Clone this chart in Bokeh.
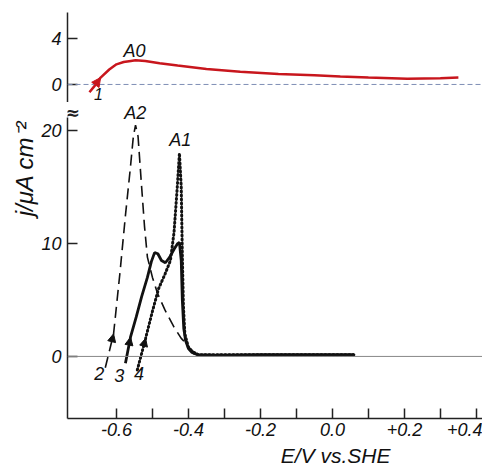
from bokeh.plotting import figure
from bokeh.layouts import column
from bokeh.models import Range1d, FixedTicker, Span, Label, Arrow, NormalHead, Title
from bokeh.embed import file_html
from bokeh.resources import INLINE

# ---- data ----
# curve 1 (upper panel, A0)
E1 = [-0.675, -0.66, -0.644, -0.62, -0.60, -0.58, -0.56, -0.547, -0.52, -0.48, -0.43, -0.35, -0.256, -0.15, -0.05, 0.022, 0.10, 0.208, 0.30, 0.35]
j1 = [-0.68, -0.1, 0.6, 1.3, 1.75, 1.95, 2.05, 2.1, 2.05, 1.85, 1.65, 1.35, 1.1, 0.9, 0.8, 0.7, 0.6, 0.5, 0.55, 0.6]
# curve 2 (dashed, A2)
E2 = [-0.631, -0.608, -0.590, -0.575, -0.562, -0.553, -0.547, -0.540, -0.530, -0.522, -0.514, -0.500, -0.486, -0.465, -0.440, -0.420, -0.408, -0.390, -0.370, -0.30, -0.10, 0.06]
j2 = [-1.0, 2.0, 7.5, 12.5, 16.5, 19.5, 20.5, 19.5, 15.0, 11.5, 8.8, 7.0, 5.6, 4.1, 2.6, 1.6, 1.2, 0.5, 0.2, 0.15, 0.15, 0.15]
# curve 3 (solid)
E3 = [-0.575, -0.561, -0.545, -0.530, -0.514, -0.503, -0.494, -0.485, -0.475, -0.464, -0.452, -0.440, -0.430, -0.425, -0.420, -0.417, -0.413, -0.408, -0.400, -0.390, -0.375, -0.36, -0.20, 0.0, 0.06]
j3 = [-0.6, 1.7, 3.5, 5.3, 7.0, 8.4, 9.2, 9.1, 8.5, 8.3, 8.8, 9.5, 10.0, 10.1, 8.5, 5.0, 2.5, 1.4, 0.7, 0.35, 0.15, 0.1, 0.15, 0.15, 0.15]
# curve 4 (dotted, A1)
E4 = [-0.542, -0.519, -0.500, -0.483, -0.465, -0.450, -0.440, -0.431, -0.425, -0.420, -0.417, -0.414, -0.410, -0.400, -0.385, -0.37, -0.20, 0.0, 0.06]
j4 = [-1.2, 1.6, 4.0, 6.0, 7.3, 8.5, 11.0, 15.0, 18.0, 15.0, 9.0, 4.5, 2.0, 0.8, 0.3, 0.15, 0.15, 0.15, 0.15]

x_ticks = [-0.6, -0.5, -0.4, -0.3, -0.2, -0.1, 0.0, 0.1, 0.2, 0.3, 0.4]
x_tick_labels = ["-0.6", "", "-0.4", "", "-0.2", "", "0.0", "", "+0.2", "", "+0.4"]
upper_ticks = [0, 4]
lower_ticks = [0, 10, 20]

FONT = "Liberation Sans"
FS = "18px"

x_range = Range1d(-0.736, 0.417)
upper_y = Range1d(-1.57, 6.26)
lower_y = Range1d(-5.5, 22.5)


def style_axis(ax):
    ax.major_tick_in = 10
    ax.major_tick_out = 0
    ax.minor_tick_line_color = None
    ax.axis_line_width = 1.5
    ax.major_tick_line_width = 1.5
    ax.axis_line_color = "#222"
    ax.major_tick_line_color = "#222"
    ax.major_label_text_font = FONT
    ax.major_label_text_font_style = "italic"
    ax.major_label_text_font_size = FS
    ax.major_label_text_color = "#111"


# ---- upper panel ----
p1 = figure(width=482, height=102, x_range=x_range, y_range=upper_y,
            output_backend="svg", toolbar_location=None, x_axis_location=None,
            min_border_left=67, min_border_right=0, min_border_top=12, min_border_bottom=0)
p1.outline_line_color = None
p1.grid.visible = False
p1.yaxis.ticker = FixedTicker(ticks=upper_ticks)
style_axis(p1.yaxis[0])
p1.yaxis.major_label_standoff = 6
p1.add_layout(Span(location=0, dimension="width", line_color="#7f8fb5", line_width=1, line_dash="5 3"))
p1.line(E1, j1, line_color="#c8161d", line_width=2.5)
p1.add_layout(Arrow(x_start=E1[1], y_start=j1[1], x_end=E1[2], y_end=j1[2], line_alpha=0,
                    end=NormalHead(size=9, fill_color="#c8161d", line_color="#c8161d")))
for txt, x, y, fs in [("A0", -0.55, 2.95, "18px"), ("1", -0.650, -0.8, "16px")]:
    p1.add_layout(Label(x=x, y=y, text=txt, text_font=FONT, text_font_style="italic",
                        text_font_size=fs, text_align="center", text_baseline="middle", text_color="#111"))

# ---- lower panel ----
p2 = figure(width=482, height=372, x_range=x_range, y_range=lower_y,
            output_backend="svg", toolbar_location=None,
            min_border_left=67, min_border_right=0, min_border_top=0, min_border_bottom=56)
p2.outline_line_color = None
p2.grid.visible = False
p2.yaxis.ticker = FixedTicker(ticks=lower_ticks)
p2.xaxis.ticker = FixedTicker(ticks=x_ticks)
p2.xaxis.major_label_overrides = dict(zip(x_ticks, x_tick_labels))
style_axis(p2.yaxis[0])
style_axis(p2.xaxis[0])
p2.yaxis.major_label_standoff = 6
p2.xaxis.major_label_standoff = 4
p2.yaxis.bounds = (lower_y.start, 21.2)
p2.add_layout(Span(location=0, dimension="width", line_color="#888", line_width=1))

p2.line(E2, j2, line_color="#111", line_width=1.6, line_dash="11 6")
p2.line(E3, j3, line_color="#111", line_width=2.8)
p2.line(E4, j4, line_color="#111", line_width=3, line_dash="1 3", line_cap="round")

for E, j in [(E2, j2), (E3, j3), (E4, j4)]:
    p2.add_layout(Arrow(x_start=E[0], y_start=j[0], x_end=E[1], y_end=j[1], line_alpha=0,
                        end=NormalHead(size=8, fill_color="#111", line_color="#111")))

p2.add_layout(Label(x=-0.548, y=22.45, text="A2", text_font=FONT, text_font_style="italic",
                    text_font_size="18px", text_align="center", text_baseline="top", text_color="#111"))
for txt, x, y in [("A1", -0.423, 19.2),
                  ("2", -0.648, -1.5), ("3", -0.592, -1.7), ("4", -0.537, -1.5)]:
    p2.add_layout(Label(x=x, y=y, text=txt, text_font=FONT, text_font_style="italic",
                        text_font_size="18px", text_align="center", text_baseline="middle", text_color="#111"))

# axis break mark
p2.add_layout(Label(x=-0.736, y=21.6, x_offset=5, text="≈", text_font="DejaVu Sans", text_font_size="18px",
                    text_font_style="bold", text_align="center", text_baseline="middle",
                    text_color="#222"))
# axis titles
p2.add_layout(Title(text="j/μA cm⁻²", align="right", offset=18, text_font=FONT,
                    text_font_style="italic", text_font_size="24px",
                    text_color="#111", standoff=2), "left")
p2.add_layout(Title(text="E/V vs.SHE", align="right", offset=92, text_font=FONT,
                    text_font_style="italic", text_font_size="21px",
                    text_color="#111", standoff=6), "below")

layout = column(p1, p2, spacing=0)
open("out.html", "w").write(file_html(layout, INLINE))
